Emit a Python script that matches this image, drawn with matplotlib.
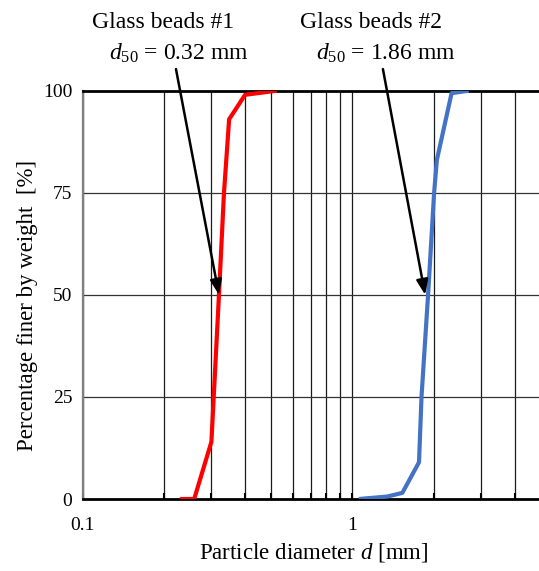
import numpy as np
import matplotlib
matplotlib.use('Agg')
import matplotlib.pyplot as plt
from matplotlib.ticker import FixedLocator, NullFormatter, FixedFormatter

plt.rcParams.update({
    'font.family': ['Liberation Serif', 'DejaVu Serif'],
    'mathtext.fontset': 'custom',
    'mathtext.rm': 'Liberation Serif',
    'mathtext.it': 'Liberation Serif:italic',
})

# grain size distributions (sieve diameter in mm, cumulative % passing)
beads1_d = [0.229, 0.259, 0.300, 0.306, 0.320, 0.334, 0.349, 0.400, 0.524]
beads1_pct = [0, 0, 14, 25, 50, 75, 93, 99, 100]
beads2_d = [1.056, 1.346, 1.531, 1.765, 1.803, 1.907, 2.008, 2.055, 2.331, 2.697]
beads2_pct = [0, 0.6, 1.5, 9, 25, 50, 75, 83, 99.4, 100]

d50_values = [0.32, 1.86]
sample_names = ['Glass beads #1', 'Glass beads #2']

major_x = [0.1, 1]
minor_x = [0.2, 0.3, 0.4, 0.5, 0.6, 0.7, 0.8, 0.9, 2, 3, 4]
y_ticks = [0, 25, 50, 75, 100]

W, H = 539, 571
fig = plt.figure(figsize=(W / 100, H / 100), dpi=100)
ax = fig.add_axes([82.7 / W, (H - 499) / H, (541 - 82.7) / W, 408.3 / H])

ax.set_xscale('log')
ax.set_xlim(0.1, 5)
ax.set_ylim(0, 100)

# grid lines
for xv in major_x + minor_x:
    ax.axvline(xv, color='#1a1a1a', lw=0.9, zorder=1)
for yv in y_ticks[1:-1]:
    ax.axhline(yv, color='#333333', lw=0.9, zorder=1)

ax.plot(beads1_d, beads1_pct, color='#FF0000', lw=3.0, zorder=3, solid_capstyle='butt')
ax.plot(beads2_d, beads2_pct, color='#4472C4', lw=3.0, zorder=3, solid_capstyle='butt')

ax.xaxis.set_major_locator(FixedLocator(major_x))
ax.xaxis.set_major_formatter(FixedFormatter(['0.1', '1']))
ax.xaxis.set_minor_locator(FixedLocator(minor_x))
ax.xaxis.set_minor_formatter(NullFormatter())
ax.set_yticks(y_ticks)
ax.tick_params(axis='x', which='both', direction='in', length=4, width=1.5,
               color='black', labelsize=14, pad=13, top=False)
ax.tick_params(axis='y', which='both', length=0, labelsize=14, pad=7.5)

for side in ['top', 'bottom']:
    ax.spines[side].set_color('black')
    ax.spines[side].set_linewidth(2.0)
ax.spines['left'].set_color('#7f7f7f')
ax.spines['left'].set_linewidth(1.6)
ax.spines['right'].set_visible(False)

ax.set_xlabel('Particle diameter $d$ [mm]', fontsize=16.5)
ax.xaxis.set_label_coords(0.505, -0.102)
ax.set_ylabel('Percentage finer by weight  [%]', fontsize=16.5)
ax.yaxis.set_label_coords(-0.098, 0.475)

# d50 labels with arrows pointing at the 50 % crossing
label_x = [163, 371]
sub_x = [179, 386]
tail_x = [0.2217, 1.297]
for name, lx, sx, tx, d50 in zip(sample_names, label_x, sub_x, tail_x, d50_values):
    fig.text(lx / W, 1 - 23 / H, name, ha='center', va='center', fontsize=17)
    fig.text(sx / W, 1 - 53 / H, f'$d_{{50}}$ = {d50:.2f} mm', ha='center', va='center',
             fontsize=17)
    ax.annotate('', xy=(d50, 50), xytext=(tx, 105.3), xycoords='data', textcoords='data',
                annotation_clip=False, zorder=5,
                arrowprops=dict(arrowstyle='-|>,head_length=0.9,head_width=0.35',
                                color='black', lw=1.8, shrinkA=0, shrinkB=0))

fig.savefig('out.png', dpi=100)
